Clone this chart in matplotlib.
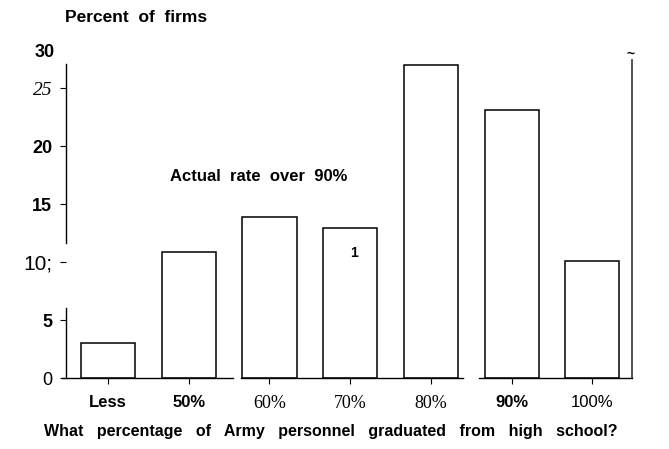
import matplotlib.pyplot as plt

categories = ['Less', '50%', '60%', '70%', '80%', '90%', '100%']
firms_pct = [3.0, 10.9, 13.9, 12.9, 27.0, 23.1, 10.1]
y_ticks = [0, 5, 10, 15, 20, 25]
y_tick_labels = ['0', '5', '10;', '15', '20', '25']

SANS = 'Liberation Sans'
SERIF = 'Liberation Serif'

fig = plt.figure(figsize=(6.69, 4.49), dpi=100)
ax = fig.add_axes([0.0987, 0.1581, 0.846, 0.775])

x = list(range(len(categories)))
ax.bar(x, firms_pct, width=0.67, color='white', edgecolor='black', linewidth=1.1)

ax.set_xlim(-0.52, 6.49)
ax.set_ylim(0, 30)

# spines: scanned look, left axis broken around the "10" label
for s in ['top', 'right', 'left', 'bottom']:
    ax.spines[s].set_visible(False)
ax.plot([-0.52, -0.52], [0, 6.0], color='black', lw=1.0, clip_on=False)
ax.plot([-0.52, -0.52], [11.6, 27.1], color='black', lw=1.0, clip_on=False)
ax.plot([6.49, 6.49], [0, 27.4], color='#333333', lw=1.2, clip_on=False)
ax.plot([-0.57, 1.55], [0, 0], color='black', lw=1.0, clip_on=False)
ax.plot([1.65, 4.4], [0, 0], color='black', lw=1.0, clip_on=False)
ax.plot([4.6, 6.49], [0, 0], color='black', lw=1.0, clip_on=False)

ax.set_yticks(y_ticks)
ax.set_yticklabels(y_tick_labels)
ax.tick_params(axis='y', length=4, width=0.8, pad=6)
ax.set_xticks(x)
ax.set_xticklabels(categories)
ax.tick_params(axis='x', length=4, width=0.8, pad=8)

y_styles = [
    dict(family=SANS, weight='normal', size=13),
    dict(family=SANS, weight='bold', size=13),
    dict(family=SANS, weight='normal', size=15),
    dict(family=SANS, weight='bold', size=13),
    dict(family=SANS, weight='bold', size=13),
    dict(family=SERIF, style='italic', size=14),
]
for lab, st in zip(ax.get_yticklabels(), y_styles):
    lab.set_fontfamily(st['family'])
    lab.set_fontweight(st.get('weight', 'normal'))
    lab.set_fontstyle(st.get('style', 'normal'))
    lab.set_fontsize(st['size'])

x_styles = [
    dict(family=SANS, weight='bold', size=12),
    dict(family=SANS, weight='bold', size=12),
    dict(family=SERIF, weight='normal', size=13),
    dict(family=SERIF, weight='normal', size=13),
    dict(family=SERIF, weight='normal', size=13),
    dict(family=SANS, weight='bold', size=12),
    dict(family=SANS, weight='normal', size=12),
]
for lab, st in zip(ax.get_xticklabels(), x_styles):
    lab.set_fontfamily(st['family'])
    lab.set_fontweight(st['weight'])
    lab.set_fontsize(st['size'])

# the "30" label sits a bit lower than its true position in the scan
ax.text(-0.66, 28.1, '30', ha='right', va='center', fontfamily=SANS,
        fontweight='bold', fontsize=13)

fig.text(0.097, 0.962, 'Percent  of  firms', fontfamily=SANS, fontweight='bold',
         fontsize=12.5, va='center')
ax.text(0.77, 17.4, 'Actual  rate  over  90%', fontfamily=SANS, fontweight='bold',
        fontsize=12, va='center')
ax.text(3.0, 10.8, '1', fontfamily=SANS, fontweight='bold', fontsize=10, va='center')
ax.text(6.42, 28.0, '~', fontfamily=SANS, fontweight='bold', fontsize=10, va='center')

fig.text(0.494, 0.038,
         'What   percentage   of   Army   personnel   graduated   from   high   school?',
         fontfamily=SANS, fontweight='bold', fontsize=11.5, ha='center', va='center')

fig.savefig('out.png', dpi=100)
